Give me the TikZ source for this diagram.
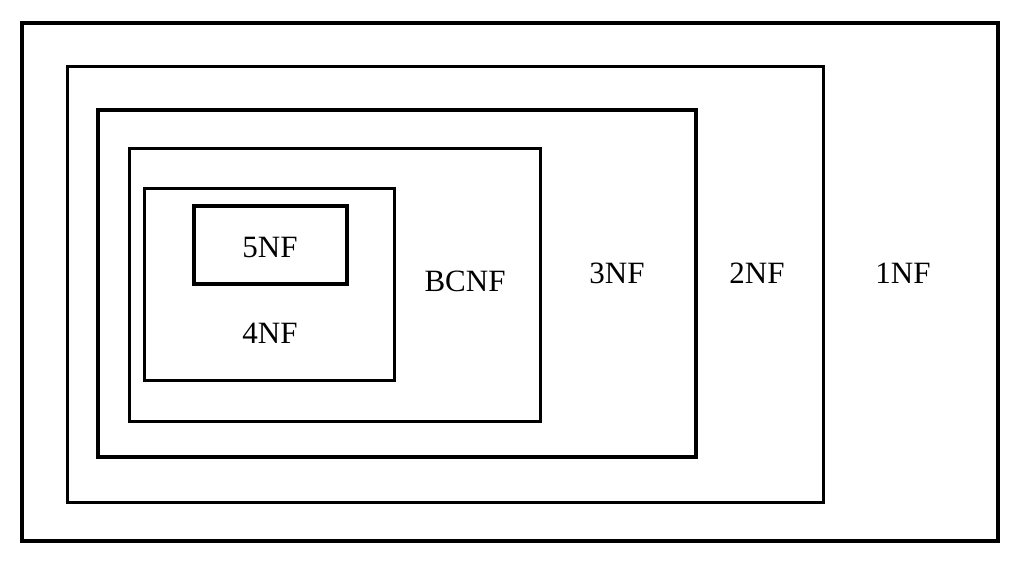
\documentclass[tikz,border=0pt]{standalone}
\usepackage{fontspec}
\setmainfont{Liberation Serif}
\usetikzlibrary{positioning}

\begin{document}
\begin{tikzpicture}[x=1pt,y=-1pt,
		heavy box/.style={draw,line width=4pt},
		light box/.style={draw,line width=3pt},
		text node/.style={rectangle,inner sep=0pt,font=\fontsize{31}{36}\selectfont}]
		
		\useasboundingbox (0,0) rectangle (1024,561);
		
		\draw[heavy box] (22,23) rectangle (998,541);
		\draw[light box] (67,67) rectangle (823,502);
		\draw[heavy box] (98,110) rectangle (696,457);
		\draw[light box] (129,149) rectangle (540,421);
		\draw[light box] (144,189) rectangle (394,380);
		\draw[heavy box] (194,206) rectangle (347,284);
		
		\node[text node] (nf5) at (270,248) {5NF};
		\node[text node] (nf4) at (270,333) {4NF};
		\node[text node] (bcnf) at (465,281) {BCNF};
		\node[text node] (nf3) at (617,273) {3NF};
		\node[text node] (nf2) at (757,273) {2NF};
		\node[text node] (nf1) at (903,273) {1NF};
		
		\end{tikzpicture}
\end{document}
